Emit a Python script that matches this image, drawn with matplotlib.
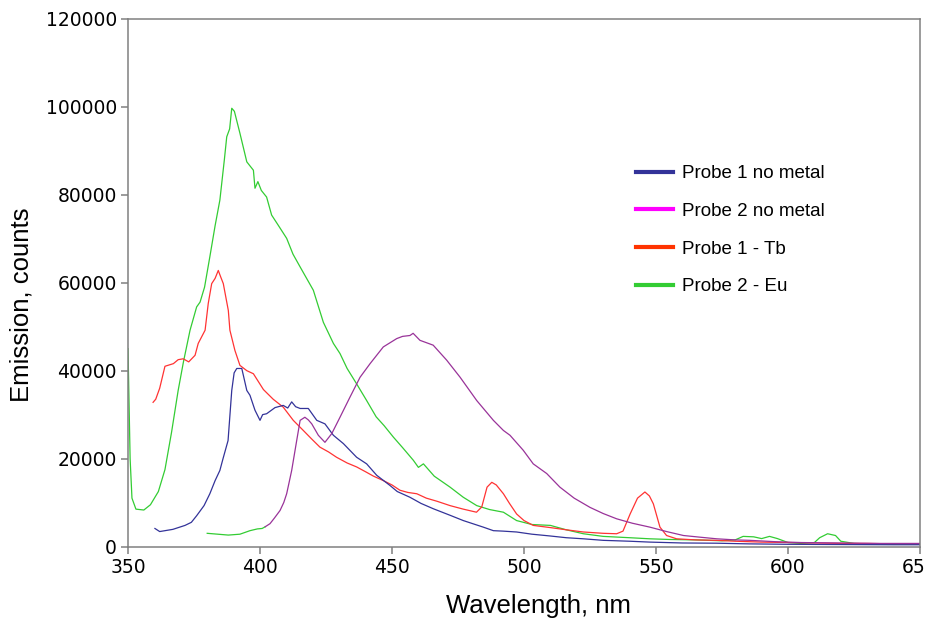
#!/usr/bin/env python
# -*- coding: utf-8 -*-

import matplotlib
matplotlib.use('Agg')
import matplotlib.pyplot as plt
from matplotlib.lines import Line2D

# Data (wavelength in nm, emission in counts)

probe2_eu_wl = [350, 350.8, 351.5, 353, 356, 358.5, 361.5, 364, 366.5, 369, 371, 373.5, 376, 377.3,
                379, 381, 383, 384.8, 386.5, 387.4, 388.5, 389.3, 390.3, 392.4, 395, 397.5, 398.1,
                399.2, 400.5, 402.5, 404.4, 407, 410.1, 412.5, 415.2, 420.2, 424, 427.8, 430.3, 433,
                436.6, 440.4, 444, 447, 450.5, 454, 458.1, 460, 461.9, 466, 472, 477, 482.1, 487,
                492.2, 497.2, 503, 510, 516, 522.5, 530, 540, 547.7, 555, 565, 575, 580, 583, 587,
                590, 593, 596, 600, 605, 610, 612, 615, 618, 620, 625, 630, 640, 650]
probe2_eu = [45000, 20000, 11000, 8500, 8300, 9500, 12500, 17500, 26000, 35500, 42000, 49200, 54500, 55600,
             59000, 65900, 73000, 78800, 88000, 93200, 95000, 99700, 99000, 94000, 87500, 85600, 81500,
             83000, 81000, 79500, 75400, 73000, 70100, 66500, 63600, 58300, 51000, 46200, 43900, 40500,
             37000, 33200, 29500, 27500, 24900, 22500, 19600, 18000, 18800, 16000, 13500, 11200, 9300, 8400,
             7800, 5900, 5000, 4800, 3800, 2900, 2300, 2000, 1750, 1600, 1500, 1300, 1500, 2300, 2200,
             1800, 2300, 1800, 900, 700, 900, 2000, 2900, 2500, 1200, 700, 600, 550, 600]

probe1_tb_wl = [359.5, 360.5, 362, 364, 367.2, 369, 370.9, 373, 375.4, 376.6, 379.2, 380.4, 381.7, 383,
                384.2, 385, 386.1, 388, 388.6, 390.5, 392.4, 395, 397.5, 401.3, 405, 408.8, 412.6, 416.4,
                419.5, 422.7, 426, 429, 433, 436.6, 440, 443, 446.7, 450, 453, 456, 459.4, 463, 467,
                472, 477, 482, 484, 486, 487.8, 489.5, 492.2, 494.5, 497.2, 500, 503.5, 510, 516, 522.5,
                530, 535.1, 537.5, 540.2, 543, 545.8, 547.5, 549, 551.5, 554, 557.8, 565, 573, 580, 590,
                600, 610, 620, 630, 640, 650]
probe1_tb = [32800, 33500, 36000, 41000, 41600, 42500, 42700, 42000, 43500, 46200, 49200, 55300, 59800, 61000,
             62800, 61500, 59800, 53700, 49200, 44600, 41200, 40000, 39300, 35700, 33500, 31700, 28700, 26400,
             24500, 22600, 21500, 20300, 19000, 18100, 17000, 16000, 15000, 14000, 12800, 12300, 12000, 11000, 10300,
             9300, 8500, 7800, 9000, 13500, 14600, 14000, 12000, 9800, 7400, 5900, 4800, 4300, 3800, 3300,
             3000, 2900, 3500, 7400, 11000, 12400, 11500, 9700, 4400, 2500, 1750, 1500, 1400, 1200, 1000,
             900, 800, 700, 700, 600, 600]

probe1_wl = [360.2, 362, 364, 367, 371.6, 374, 376, 378.8, 381, 383, 384.8, 386, 387.9, 389.3, 390.2,
             391.2, 393.1, 395, 396.2, 398.1, 400, 401, 402.5, 405.7, 408.8, 410.5, 412, 413.5, 415.2,
             418.3, 421.5, 424.6, 427.8, 431.6, 436.6, 440.4, 444.2, 449.2, 452, 456.8, 461, 465.6, 472,
             477, 484.6, 488.4, 492, 497.2, 503, 509.8, 516, 522.5, 530, 540, 547.7, 560, 573, 585, 600,
             620, 640, 650]
probe1 = [4100, 3400, 3600, 3900, 4800, 5500, 7000, 9300, 12000, 15000, 17300, 20000, 24100, 35500, 39500,
          40500, 40500, 35500, 34400, 31000, 28700, 30000, 30200, 31600, 32100, 31500, 32900, 31800, 31400,
          31400, 28700, 27900, 25300, 23400, 20300, 18800, 16200, 13900, 12500, 11200, 9800, 8600, 7100,
          5900, 4400, 3600, 3500, 3300, 2800, 2400, 2000, 1750, 1400, 1200, 1000, 800, 750, 600, 500,
          450, 400, 400]

probe2_wl = [380, 384, 388, 392.4, 396.2, 399, 400.8, 402, 403.8, 405.5, 407.6, 409, 410.1, 411, 412,
             413.9, 415.2, 417, 418.3, 419.6, 422.1, 424.6, 427.2, 430.3, 434.1, 437.9, 441.7, 446.7,
             451.8, 454, 456.8, 458, 460.6, 465.6, 470.7, 475.8, 482.1, 488.4, 492.2, 494.7, 499.7,
             503.5, 508.6, 513.6, 519, 525, 530, 535.1, 541, 547.7, 554, 560.4, 567, 573, 580, 585.6,
             595, 605, 620, 635, 650]
probe2 = [3000, 2800, 2600, 2800, 3600, 4000, 4100, 4500, 5200, 6500, 8200, 10000, 12000, 14500, 17300,
          24100, 28700, 29400, 28800, 27900, 25300, 23700, 25700, 29400, 34000, 38500, 41600, 45400,
          47300, 47800, 48000, 48500, 46900, 45800, 42400, 38500, 33200, 28700, 26400, 25300, 21900,
          18800, 16600, 13500, 11000, 8900, 7500, 6300, 5300, 4400, 3400, 2500, 2100, 1750, 1500, 1400,
          1100, 900, 800, 700, 700]

legend_labels = ['Probe 1 no metal', 'Probe 2 no metal', 'Probe 1 - Tb', 'Probe 2 - Eu']
legend_colors = ['#333399', '#ff00ff', '#ff3300', '#33cc33']


def build_spectra():
    """Draws the four emission spectra with an Excel-like frame."""
    fig = plt.figure(figsize=(9.25, 6.21), dpi=100)
    ax = fig.add_axes([128 / 925, 1 - 546.5 / 621, 792 / 925, 527.5 / 621])

    ax.plot(probe2_eu_wl, probe2_eu, color='#33cc33', lw=0.9)
    ax.plot(probe1_tb_wl, probe1_tb, color='#ff3333', lw=0.9)
    ax.plot(probe1_wl, probe1, color='#333399', lw=0.9)
    # the low start of the probe 2 trace is drawn green in the original
    split = probe2_wl.index(402)
    ax.plot(probe2_wl[:split + 1], probe2[:split + 1], color='#33cc33', lw=0.9)
    ax.plot(probe2_wl[split:], probe2[split:], color='#993399', lw=0.9)

    ax.set_xlim(350, 650)
    ax.set_ylim(0, 120000)
    ax.set_xticks(range(350, 651, 50))
    ax.set_yticks(range(0, 120001, 20000))
    for side in ['left', 'right', 'top', 'bottom']:
        ax.spines[side].set_color('#808080')
        ax.spines[side].set_linewidth(1.1)
    ax.tick_params(direction='out', length=5, width=1.1, color='#808080',
                   labelsize=13.5, labelcolor='black', pad=3)

    fig.text(538 / 925, 1 - 606 / 621, 'Wavelength, nm', ha='center', va='center',
             fontsize=18.5, family='Liberation Sans')
    fig.text(22 / 925, 1 - 305 / 621, 'Emission, counts', ha='center', va='center',
             rotation=90, fontsize=18.5, family='Liberation Sans')

    handles = [Line2D([], [], color=c, lw=3) for c in legend_colors]
    ax.legend(handles, legend_labels, loc='upper left', bbox_to_anchor=(0.62, 0.755),
              frameon=False, handlelength=2.0, handletextpad=0.45, labelspacing=1.1,
              prop={'family': 'Liberation Sans', 'size': 13.5})
    return fig


if __name__ == '__main__':
    fig = build_spectra()
    fig.savefig('out.png', dpi=100)
